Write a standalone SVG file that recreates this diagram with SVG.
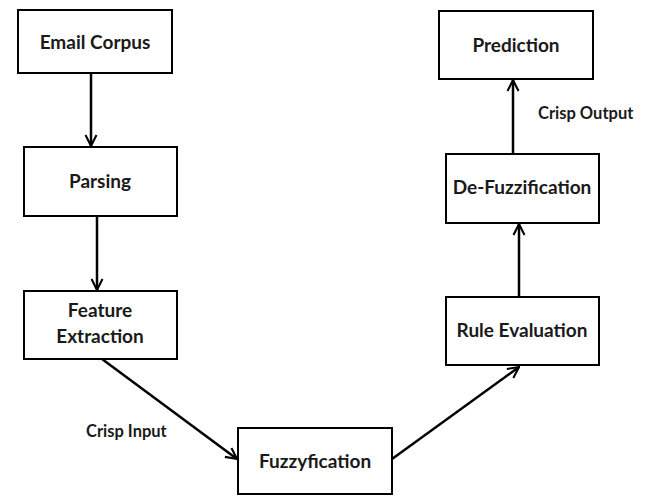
<svg xmlns="http://www.w3.org/2000/svg" width="649" height="496" viewBox="0 0 649 496">
<style>
.box{fill:#fff;stroke:#000;stroke-width:2}
.t{font-family:Lato,"Liberation Sans",sans-serif;font-weight:bold;font-size:19px;fill:#1a1a1a;text-anchor:middle}
.l{font-family:Lato,"Liberation Sans",sans-serif;font-weight:bold;font-size:16.5px;fill:#1a1a1a}
.c{stroke:#000;stroke-width:2.5;fill:none;marker-end:url(#ah)}
</style>
<defs>
<marker id="ah" viewBox="0 0 10 10" refX="9" refY="5" markerWidth="5.5" markerHeight="5.5" orient="auto" markerUnits="strokeWidth">
<path d="M1,1 L9,5 L1,9" fill="none" stroke="#000" stroke-width="1.5"/>
</marker>
</defs>
<rect width="649" height="496" fill="#fff"/>
<g id="connectors">
<line class="c" x1="91" y1="73" x2="91" y2="146"/>
<line class="c" x1="97" y1="216" x2="97" y2="290"/>
<line class="c" x1="102" y1="359" x2="237" y2="459"/>
<line class="c" x1="392" y1="459" x2="519" y2="367"/>
<line class="c" x1="519" y1="297" x2="519" y2="224"/>
<line class="c" x1="513" y1="153" x2="513" y2="80"/>
</g>
<g id="email-corpus"><rect class="box" x="18" y="10" width="154" height="63"/><text class="t" x="95" y="49">Email Corpus</text></g>
<g id="parsing"><rect class="box" x="24" y="147" width="153" height="69"/><text class="t" x="100" y="188">Parsing</text></g>
<g id="feature-extraction"><rect class="box" x="24" y="291" width="153" height="68"/><text class="t" x="100" y="317">Feature</text><text class="t" x="100" y="343">Extraction</text></g>
<g id="fuzzyfication"><rect class="box" x="238" y="428" width="154" height="66"/><text class="t" x="315" y="468">Fuzzyfication</text></g>
<g id="rule-evaluation"><rect class="box" x="446" y="297" width="153" height="68"/><text class="t" x="522" y="337">Rule Evaluation</text></g>
<g id="de-fuzzification"><rect class="box" x="446" y="154" width="153" height="69"/><text class="t" x="522" y="194">De-Fuzzification</text></g>
<g id="prediction"><rect class="box" x="439" y="11" width="154" height="68"/><text class="t" x="516" y="52">Prediction</text></g>
<text class="l" x="86" y="437">Crisp Input</text>
<text class="l" x="538" y="119">Crisp Output</text>
</svg>
